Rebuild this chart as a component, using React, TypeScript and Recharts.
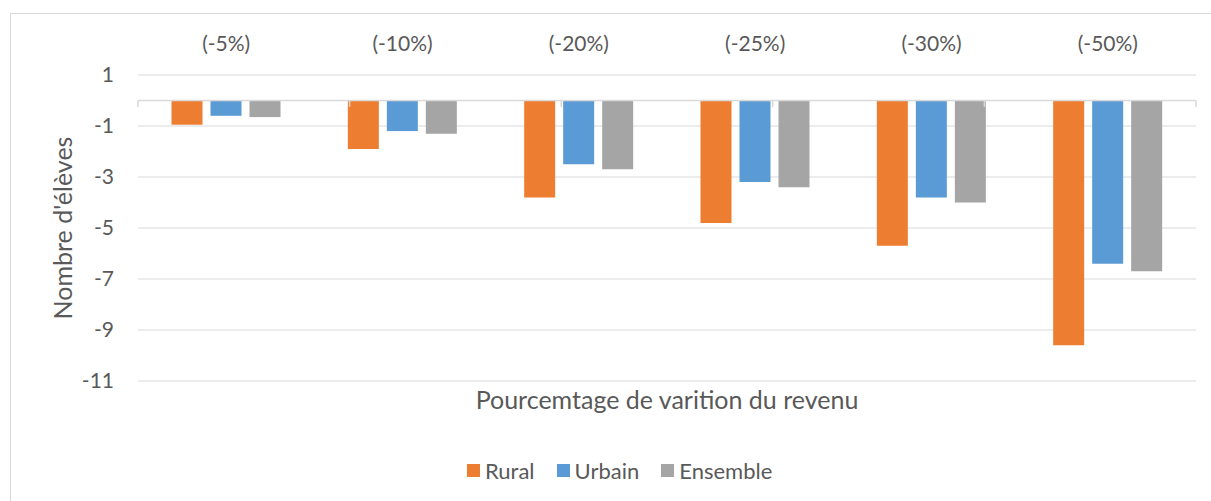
import {
  Bar,
  BarChart,
  CartesianGrid,
  Legend,
  ReferenceLine,
  XAxis,
  YAxis,
} from "recharts";

const categories = ["(-5%)", "(-10%)", "(-20%)", "(-25%)", "(-30%)", "(-50%)"];
const rural = [-0.95, -1.9, -3.8, -4.8, -5.7, -9.6];
const urbain = [-0.6, -1.2, -2.5, -3.2, -3.8, -6.4];
const ensemble = [-0.65, -1.3, -2.7, -3.4, -4.0, -6.7];
const yTicks = [1, -1, -3, -5, -7, -9, -11];
const boundaries = [0, 1, 2, 3, 4, 5, 6];

const series = [
  { key: "rural", name: "Rural", color: "#ED7D31" },
  { key: "urbain", name: "Urbain", color: "#5B9BD5" },
  { key: "ensemble", name: "Ensemble", color: "#A5A5A5" },
];

const data = categories.map((label, i) => ({
  label,
  rural: rural[i],
  urbain: urbain[i],
  ensemble: ensemble[i],
}));

const font = "Lato, 'Noto Sans', sans-serif";
const textColor = "#595959";
const gridColor = "#d9d9d9";

function YTitle({ viewBox }: any) {
  const cx = viewBox.x + 24;
  const cy = viewBox.y + viewBox.height / 2;
  return (
    <text
      x={cx}
      y={cy}
      transform={`rotate(-90 ${cx} ${cy})`}
      textAnchor="middle"
      dominantBaseline="central"
      fill={textColor}
      fontSize={25}
      fontFamily={font}
    >
      Nombre d'élèves
    </text>
  );
}

function LegendBox() {
  return (
    <div style={{ display: "flex", alignItems: "center", fontFamily: font, fontSize: 22, color: textColor }}>
      {series.map((s) => (
        <div key={s.key} style={{ display: "flex", alignItems: "center", marginRight: 22 }}>
          <span style={{ width: 13, height: 13, background: s.color, display: "inline-block", marginRight: 5 }} />
          <span>{s.name}</span>
        </div>
      ))}
    </div>
  );
}

export default function App() {
  return (
    <div style={{ position: "fixed", left: 0, top: 0, width: 1211, height: 501, overflow: "hidden", background: "#fff" }}>
      <div
        style={{
          position: "absolute",
          left: 10,
          top: 13,
          right: -20,
          bottom: -20,
          borderLeft: `1px solid ${gridColor}`,
          borderTop: `1px solid ${gridColor}`,
        }}
      />
      <div style={{ position: "absolute", left: 0, top: 0 }}>
        <BarChart
          width={1211}
          height={501}
          data={data}
          margin={{ top: 35, right: 15, left: 38, bottom: 70 }}
          barCategoryGap="19%"
          barGap={8}
        >
          <CartesianGrid vertical={false} stroke={gridColor} strokeWidth={1} />
          <XAxis
            dataKey="label"
            orientation="top"
            height={40}
            axisLine={false}
            tickLine={false}
            tickMargin={18}
            tick={{ fontSize: 21, fill: textColor, fontFamily: font }}
          />
          <XAxis
            xAxisId="b"
            type="number"
            orientation="bottom"
            domain={[0, 6]}
            ticks={boundaries}
            height={50}
            axisLine={false}
            tickLine={false}
            tick={false}
            label={{
              value: "Pourcemtage de varition du revenu",
              position: "insideTop",
              offset: 10,
              fill: textColor,
              fontSize: 25,
              fontFamily: font,
            }}
          />
          <YAxis
            domain={[-11, 1]}
            ticks={yTicks}
            interval={0}
            width={100}
            axisLine={false}
            tickLine={false}
            tickMargin={18}
            tick={{ fontSize: 21, fill: textColor, fontFamily: font }}
            label={<YTitle />}
          />
          <ReferenceLine y={0} stroke={gridColor} strokeWidth={1.5} />
          {boundaries.map((b) => (
            <ReferenceLine
              key={b}
              xAxisId="b"
              stroke={gridColor}
              strokeWidth={1.5}
              segment={[
                { x: b, y: 0 },
                { x: b, y: -0.25 },
              ]}
            />
          ))}
          <Legend
            verticalAlign="middle"
            align="center"
            wrapperStyle={{ top: 457, left: 467, width: "auto" }}
            content={<LegendBox />}
          />
          {series.map((s) => (
            <Bar key={s.key} dataKey={s.key} name={s.name} fill={s.color} isAnimationActive={false} />
          ))}
        </BarChart>
      </div>
    </div>
  );
}
